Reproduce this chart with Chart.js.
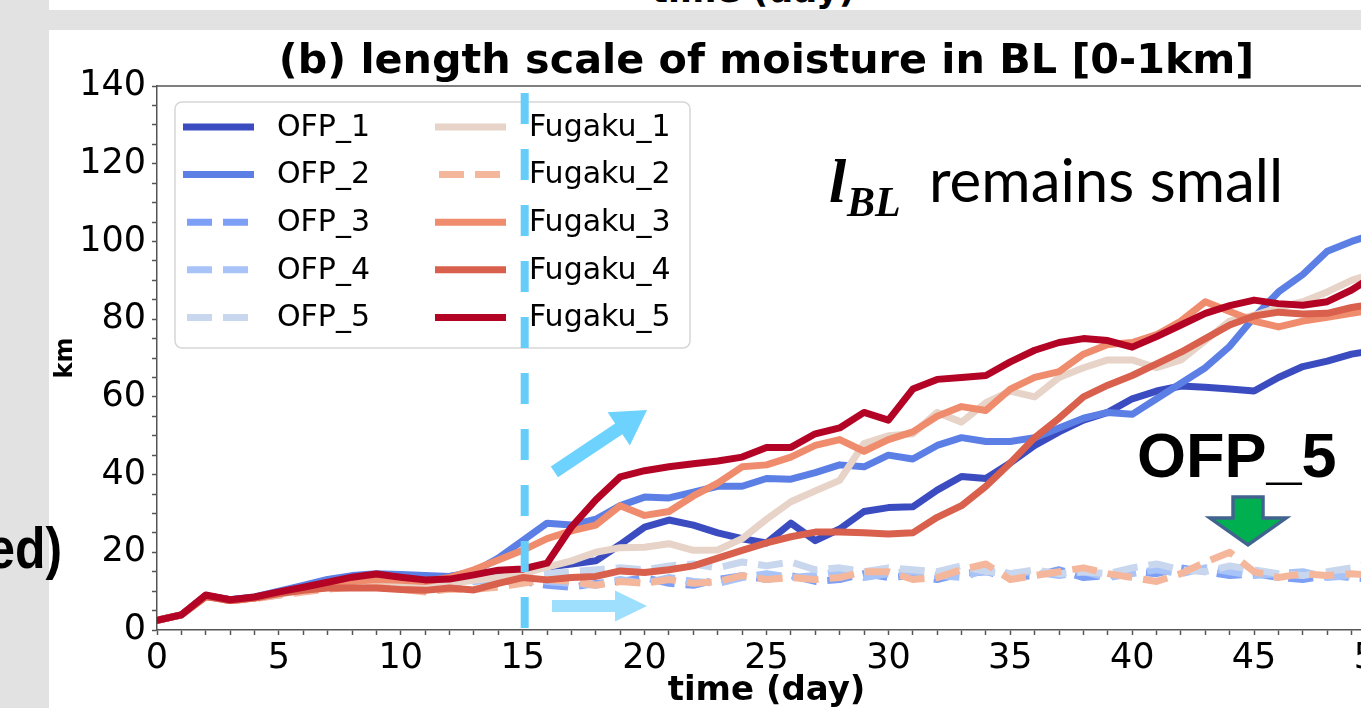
<!DOCTYPE html>
<html>
<head>
<meta charset="utf-8">
<script src="https://cdn.jsdelivr.net/npm/chart.js@4.4.1/dist/chart.umd.min.js"></script>
<style>
html,body{margin:0;padding:0;width:1361px;height:708px;overflow:hidden;background:#e2e2e2;}
#topPanel{position:absolute;left:49px;top:0;width:1400px;height:10px;background:#fff;overflow:hidden;}
#topPanel div{position:absolute;left:494px;top:-27px;width:420px;text-align:center;font:bold 35px/34px "DejaVu Sans";color:#000;white-space:nowrap;}
#mainPanel{position:absolute;left:49px;top:30px;width:1400px;height:700px;background:#fff;}
#edText{position:absolute;left:-40px;top:519px;font:bold 58px/58px "Liberation Sans";color:#000;white-space:nowrap;z-index:2;transform:scaleX(0.86);transform-origin:right top;width:102px;text-align:right;}
#wrap{position:absolute;left:0;top:0;width:1420px;height:708px;z-index:3;}
</style>
</head>
<body>
<div id="topPanel"><div>time (day)</div></div>
<div id="mainPanel"></div>
<div id="edText">ed)</div>
<div id="wrap"><canvas id="c" width="1420" height="708"></canvas></div>
<script>
// ---- data ----
const days = [0,1,2,3,4,5,6,7,8,9,10,11,12,13,14,15,16,17,18,19,20,21,22,23,24,25,26,27,28,29,30,31,32,33,34,35,36,37,38,39,40,41,42,43,44,45,46,47,48,49,50];

const seriesNames = ["OFP_1","OFP_2","OFP_3","OFP_4","OFP_5","Fugaku_1","Fugaku_2","Fugaku_3","Fugaku_4","Fugaku_5"];

const OFP_1 = [2.5,3.9,8.8,7.8,8.4,9.5,11.0,12.5,13.5,14.0,14.0,13.8,13.8,14.5,15.0,15.5,16.2,17.0,17.8,22.0,26.5,28.3,27.0,25.0,23.5,22.4,27.5,23.0,26.0,30.5,31.5,31.7,36.0,39.5,39.0,43.0,47.5,51.0,54.0,56.0,59.5,61.5,62.8,62.5,62.0,61.5,65.0,67.8,69.2,71.0,72.0];
const OFP_2 = [2.5,3.9,8.8,7.8,8.5,10.0,11.5,13.0,14.0,14.5,14.3,14.0,13.8,15.0,18.5,23.0,27.5,27.0,28.5,32.0,34.2,34.0,35.5,37.0,37.0,39.0,38.8,40.5,42.5,42.0,45.0,44.0,47.5,49.5,48.5,48.5,49.5,52.0,54.5,56.0,55.5,59.5,63.5,67.5,73.0,80.5,87.0,91.5,97.5,100.0,102.0];
const OFP_3 = [2.5,3.9,8.8,7.6,8.2,9.3,10.3,11.5,12.5,13.0,12.5,12.0,12.5,13.0,12.5,12.5,11.5,11.0,12.0,12.5,13.5,12.0,11.5,13.0,14.0,13.0,14.0,12.5,13.0,14.5,13.5,14.0,13.0,14.5,15.0,13.5,14.0,15.5,13.5,14.0,15.0,14.5,16.0,15.0,14.0,14.5,13.5,13.0,14.0,13.5,13.0];
const OFP_4 = [2.5,3.9,8.7,7.6,8.2,9.0,10.0,11.0,12.0,12.5,12.3,11.8,12.0,12.5,13.0,13.5,12.5,12.0,11.5,13.0,12.0,13.5,12.5,12.0,13.5,14.5,13.5,14.0,15.0,13.5,14.5,15.0,14.0,13.5,15.5,14.5,15.0,14.0,15.0,13.5,14.5,15.5,14.5,16.0,15.0,14.0,14.5,15.0,13.5,14.0,14.5];
const OFP_5 = [2.5,3.9,8.7,7.6,8.2,9.0,10.2,11.2,12.0,12.5,12.3,12.0,12.5,13.0,13.5,14.0,14.5,15.0,15.5,16.0,15.5,16.5,17.0,16.0,17.5,16.5,17.5,15.5,16.0,15.0,16.0,15.5,15.0,16.5,15.0,14.5,15.5,14.5,15.0,14.5,16.0,17.0,15.5,15.0,16.5,15.5,14.5,14.0,15.0,16.0,17.5];
const Fugaku_1 = [2.5,3.9,8.6,7.6,8.2,9.2,10.3,11.0,11.5,12.0,11.8,11.5,12.0,12.8,13.5,14.5,16.2,17.8,20.0,21.2,21.3,22.2,20.5,20.6,23.5,28.5,33.0,35.8,38.5,48.0,50.0,50.5,56.0,53.5,58.5,61.5,60.0,65.0,67.5,69.5,69.5,67.5,69.5,74.5,79.5,81.0,83.0,84.5,87.0,90.0,92.0];
const Fugaku_2 = [2.5,3.9,8.6,7.6,8.0,9.0,9.8,10.5,11.0,11.0,10.5,9.8,10.5,10.5,11.0,12.0,13.0,12.5,11.5,12.5,12.0,13.0,12.0,12.5,14.0,13.0,13.5,13.0,13.5,15.0,15.0,13.0,13.5,15.5,17.0,13.0,14.0,15.0,16.0,14.5,13.5,12.5,14.5,17.5,20.0,15.0,13.5,14.5,14.0,14.5,14.0];
const Fugaku_3 = [2.5,3.9,8.8,7.6,8.2,9.5,10.8,11.8,12.5,13.0,12.8,12.5,13.5,15.5,18.0,20.5,23.5,25.5,27.0,32.0,29.5,30.5,34.5,37.8,42.0,42.5,44.5,47.5,49.0,46.0,49.0,51.0,55.0,57.5,56.5,62.0,65.0,66.5,71.0,73.5,74.0,76.0,79.5,84.5,82.0,79.5,78.0,79.5,80.5,81.5,82.5];
const Fugaku_4 = [2.5,3.9,8.6,7.6,8.2,9.4,10.2,10.8,10.8,10.8,10.4,10.2,10.8,10.3,12.0,13.5,12.9,13.5,13.8,15.2,14.8,15.5,16.5,18.5,20.5,22.4,24.0,25.2,25.2,25.0,24.7,25.0,29.0,32.0,37.0,43.0,49.5,54.5,60.0,63.0,65.5,68.5,71.5,75.0,78.5,80.8,81.8,81.3,81.5,83.0,84.0];
const Fugaku_5 = [2.5,3.9,9.0,7.8,8.5,9.8,11.0,12.3,13.6,14.4,13.6,12.9,13.1,14.2,15.4,15.7,17.2,26.5,33.5,39.4,41.0,42.0,42.8,43.5,44.5,47.0,47.0,50.5,52.0,56.0,54.0,62.0,64.5,65.0,65.5,69.0,72.0,74.0,75.0,74.5,72.8,75.5,78.5,81.5,83.5,84.9,84.0,83.6,84.5,87.5,91.5];

const seriesValues = [OFP_1,OFP_2,OFP_3,OFP_4,OFP_5,Fugaku_1,Fugaku_2,Fugaku_3,Fugaku_4,Fugaku_5];
const seriesColors = ["#3b4cc0","#5b7fe4","#7d9ff6","#a7c3f7","#c9d7ee","#e7d3c7","#f5b79c","#ef8c6d","#d8604d","#b40426"];
const seriesDashed = [false,false,true,true,true,false,true,false,false,false];

const xTickValues = [0,5,10,15,20,25,30,35,40,45,50];
const yTickValues = [0,20,40,60,80,100,120,140];

const titleText = "(b) length scale of moisture in BL [0-1km]";
const xTitle = "time (day)";
const yTitle = "km";
const markerDay = 15;

// ---- chart ----
const LW = 7;
const datasets = seriesNames.map((name,i)=>({
  label:name,
  data: days.map((d,k)=>({x:d,y:seriesValues[i][k]})),
  borderColor: seriesColors[i],
  backgroundColor: seriesColors[i],
  borderWidth: LW,
  borderDash: seriesDashed[i] ? [25,11] : [],
  borderCapStyle: seriesDashed[i] ? 'butt' : 'round',
  borderJoinStyle: 'round',
  pointRadius: 0,
  tension: 0,
  fill: false,
  order: seriesNames.length - i
}));

function arrow(ctx,x1,y1,x2,y2,shaftW,headLen,headW,color){
  const a = Math.atan2(y2-y1,x2-x1);
  const L = Math.hypot(x2-x1,y2-y1);
  ctx.save();
  ctx.translate(x1,y1); ctx.rotate(a);
  ctx.fillStyle = color;
  ctx.beginPath();
  ctx.moveTo(0,-shaftW/2);
  ctx.lineTo(L-headLen,-shaftW/2);
  ctx.lineTo(L-headLen,-headW/2);
  ctx.lineTo(L,0);
  ctx.lineTo(L-headLen,headW/2);
  ctx.lineTo(L-headLen,shaftW/2);
  ctx.lineTo(0,shaftW/2);
  ctx.closePath();
  ctx.fill();
  ctx.restore();
}

const overlay = {
  id:'overlay',
  afterDatasetsDraw(chart){
    const ctx = chart.ctx, ca = chart.chartArea;
    const xs = chart.scales.x, ys = chart.scales.y;
    ctx.save();
    // top / right spines
    ctx.strokeStyle = '#555'; ctx.lineWidth = 1.5;
    ctx.beginPath(); ctx.moveTo(ca.left, ca.top); ctx.lineTo(ca.right, ca.top); ctx.lineTo(ca.right, ca.bottom); ctx.stroke();

    // legend (built from the datasets)
    const lx = 175, ly = 102, lw = 515, lh = 246;
    ctx.fillStyle = 'rgba(255,255,255,0.85)';
    ctx.strokeStyle = '#d6d6d6'; ctx.lineWidth = 1.5;
    ctx.beginPath(); ctx.roundRect(lx, ly, lw, lh, 7); ctx.fill(); ctx.stroke();
    ctx.font = '30px "DejaVu Sans"'; ctx.textBaseline = 'middle'; ctx.textAlign = 'left';
    chart.data.datasets.forEach((ds,i)=>{
      const col = i < 5 ? 0 : 1, row = i % 5;
      const y = 127 + row*47.6;
      const x0 = col === 0 ? 183 : 435;
      ctx.strokeStyle = ds.borderColor; ctx.lineWidth = 7;
      ctx.setLineDash(ds.borderDash); ctx.lineCap = 'butt';
      ctx.beginPath(); ctx.moveTo(x0 + (ds.borderDash.length? 4:0), y); ctx.lineTo(x0+71, y); ctx.stroke();
      ctx.setLineDash([]);
      ctx.fillStyle = '#000';
      ctx.fillText(ds.label, x0 + 94, y + 1);
    });

    // vertical dashed marker at day 15
    const vx = xs.getPixelForValue(markerDay) + 2;
    ctx.strokeStyle = '#66cdfb'; ctx.lineWidth = 8; ctx.setLineDash([31,25]);
    ctx.beginPath(); ctx.moveTo(vx, ca.top + 7); ctx.lineTo(vx, ca.bottom); ctx.stroke();
    ctx.setLineDash([]);

    // arrows
    arrow(ctx, xs.getPixelForValue(16.3), ys.getPixelForValue(40.7), xs.getPixelForValue(20.1), ys.getPixelForValue(56.6), 13, 34, 40, '#6dd3fe');
    arrow(ctx, xs.getPixelForValue(16.2), ys.getPixelForValue(6.2), xs.getPixelForValue(20.1), ys.getPixelForValue(6.2), 12, 32, 31, '#9ddffc');

    // green down arrow
    const gx = xs.getPixelForValue(44.75), gt = ys.getPixelForValue(34.2), gb = ys.getPixelForValue(21.9);
    ctx.beginPath();
    ctx.moveTo(gx-15, gt); ctx.lineTo(gx+15, gt); ctx.lineTo(gx+15, gt+21);
    ctx.lineTo(gx+38, gt+21); ctx.lineTo(gx, gb); ctx.lineTo(gx-38, gt+21); ctx.lineTo(gx-15, gt+21);
    ctx.closePath();
    ctx.fillStyle = '#00b050'; ctx.fill();
    ctx.strokeStyle = '#41648f'; ctx.lineWidth = 3.5; ctx.lineJoin = 'miter'; ctx.stroke();

    // annotation texts
    ctx.fillStyle = '#000'; ctx.textBaseline = 'alphabetic'; ctx.textAlign = 'left';
    ctx.font = 'bold 63px "Liberation Sans"';
    ctx.fillText('OFP_5', 1137, 477);
    ctx.font = 'italic bold 62px "Liberation Serif"';
    ctx.fillText('l', 829, 202);
    ctx.font = 'italic bold 42px "Liberation Serif"';
    ctx.fillText('BL', 847, 216);
    ctx.font = '60px Lato';
    ctx.fillText('remains small', 929, 202);
    ctx.restore();
  }
};

new Chart(document.getElementById('c'), {
  type:'line',
  data:{ datasets },
  options:{
    responsive:false, animation:false,
    layout:{ padding:{ left:49, right:44, top:0, bottom:0 } },
    plugins:{
      legend:{ display:false },
      tooltip:{ enabled:false },
      title:{ display:true, text:titleText, fullSize:false, color:'#000',
        font:{ family:'DejaVu Sans', size:41.3, weight:'bold', lineHeight:1.1 }, padding:{ top:40, bottom:0.6 } }
    },
    scales:{
      x:{ type:'linear', min:0, max:50,
        afterFit(s){ s.height = 78; },
        afterBuildTicks(s){ s.ticks = days.map(v=>({value:v})); },
        ticks:{ autoSkip:false, maxRotation:0, color:'#000', padding:3,
          font:{ family:'DejaVu Sans', size:35 },
          callback:(v)=> xTickValues.includes(v) ? String(v) : '' },
        grid:{ drawOnChartArea:false, drawTicks:true, tickLength:5, color:'#555', tickWidth:1.5 },
        border:{ color:'#555', width:1.5 },
        title:{ display:true, text:xTitle, color:'#000', font:{ family:'DejaVu Sans', size:34, weight:'bold', lineHeight:1.0 }, padding:{ top:0, bottom:0 } }
      },
      y:{ min:0, max:140,
        afterFit(s){ s.width = 108; },
        afterBuildTicks(s){ const t=[]; for(let v=0; v<=140; v+=5) t.push({value:v}); s.ticks = t; },
        ticks:{ autoSkip:false, color:'#000', padding:6,
          font:{ family:'DejaVu Sans', size:35 },
          callback:(v)=> yTickValues.includes(v) ? String(v) : '' },
        grid:{ drawOnChartArea:false, drawTicks:true, tickLength:5, color:'#555', tickWidth:1.5 },
        border:{ color:'#555', width:1.5 },
        title:{ display:true, text:yTitle, color:'#000', font:{ family:'DejaVu Sans', size:24, weight:'bold' }, padding:{ top:2, bottom:0 } }
      }
    }
  },
  plugins:[overlay]
});
</script>
</body>
</html>
